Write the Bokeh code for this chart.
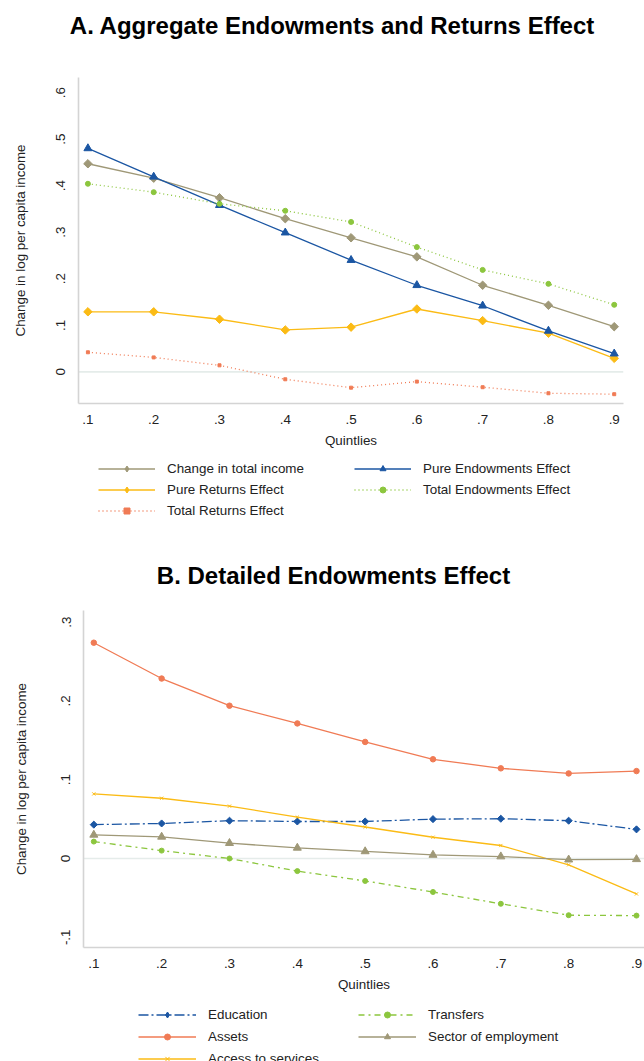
import math

from bokeh.plotting import figure
from bokeh.models import FixedTicker, Span, Legend, LegendItem, Range1d
from bokeh.core.properties import value
from bokeh.embed import file_html
from bokeh.resources import INLINE

# ---------------- data ----------------
quintiles = [0.1, 0.2, 0.3, 0.4, 0.5, 0.6, 0.7, 0.8, 0.9]
x_tick_labels = [".1", ".2", ".3", ".4", ".5", ".6", ".7", ".8", ".9"]

# Panel A: aggregate decomposition
total_income = [0.447, 0.416, 0.374, 0.329, 0.288, 0.247, 0.186, 0.143, 0.097]
pure_endowments = [0.480, 0.419, 0.358, 0.299, 0.240, 0.186, 0.142, 0.088, 0.039]
pure_returns = [0.129, 0.129, 0.113, 0.090, 0.096, 0.135, 0.110, 0.083, 0.029]
total_endowments = [0.404, 0.386, 0.361, 0.346, 0.322, 0.268, 0.219, 0.189, 0.144]
total_returns = [0.042, 0.031, 0.014, -0.016, -0.034, -0.021, -0.033, -0.046, -0.048]
a_y_ticks = [0, 0.1, 0.2, 0.3, 0.4, 0.5, 0.6]
a_y_labels = ["0", ".1", ".2", ".3", ".4", ".5", ".6"]

# Panel B: detailed endowments effect
education = [0.043, 0.0445, 0.048, 0.047, 0.047, 0.050, 0.0505, 0.048, 0.037]
assets = [0.274, 0.2285, 0.194, 0.1715, 0.148, 0.126, 0.1145, 0.108, 0.111]
access_services = [0.082, 0.0765, 0.0665, 0.0525, 0.040, 0.027, 0.0165, -0.008, -0.045]
transfers = [0.0215, 0.010, 0.000, -0.016, -0.0285, -0.0425, -0.0575, -0.072, -0.0725]
sector_employment = [0.030, 0.0275, 0.0195, 0.0135, 0.009, 0.0045, 0.0025, -0.0015, -0.001]
b_y_ticks = [-0.1, 0, 0.1, 0.2, 0.3]
b_y_labels = ["-.1", "0", ".1", ".2", ".3"]

# ---------------- style ----------------
FONT = "Liberation Sans"
TAN = "#9f9877"
BLUE = "#1b56a3"
GOLD = "#fbbb15"
GREEN = "#8cc63e"
CORAL = "#f07b55"
AXIS_GREY = "#d4d4d4"
ZERO_LINE = "#e5ecea"
TEXT = "#222222"
PAGE_W = 644

# (label, values, colour, marker, marker size, dash)
series_a = [
    ("Change in total income", total_income, TAN, "diamond", 6, "solid"),
    ("Pure Returns Effect", pure_returns, GOLD, "diamond", 6, "solid"),
    ("Total Returns Effect", total_returns, CORAL, "square", 3, "1 3"),
    ("Pure Endowments Effect", pure_endowments, BLUE, "triangle", 8, "solid"),
    ("Total Endowments Effect", total_endowments, GREEN, "circle", 5, "1 3"),
]
series_b = [
    ("Education", education, BLUE, "diamond", 5, "10 3 2 3"),
    ("Assets", assets, CORAL, "circle", 5.5, "solid"),
    ("Access to services", access_services, GOLD, "x", 4.5, "solid"),
    ("Transfers", transfers, GREEN, "circle", 5, "6 4 2 4"),
    ("Sector of employment", sector_employment, TAN, "triangle", 8, "solid"),
]


def blank_figure(height):
    p = figure(frame_width=PAGE_W, frame_height=height, min_border=0,
               x_range=Range1d(0, PAGE_W), y_range=Range1d(0, height),
               x_axis_location=None, y_axis_location=None,
               output_backend="svg", toolbar_location=None,
               background_fill_color="white", border_fill_color="white")
    p.outline_line_color = None
    p.grid.visible = False
    return p


def header(title, center_x, center_from_top, height):
    p = blank_figure(height)
    p.text(x=[center_x], y=[height - center_from_top], text=[title],
           text_font=value(FONT), text_font_size="24px",
           text_font_style="bold", text_color="#000000",
           text_align="center", text_baseline="middle")
    return p


def draw(p, x, y, color, marker, size, dash, visible=True):
    ln = p.line(x, y, line_color=color, line_width=1.3, line_dash=dash,
                visible=visible)
    if marker == "diamond" and visible:
        # Stata-style diamond: a square turned by 45 degrees
        sc = p.scatter(x, y, marker="square", angle=math.pi / 4, size=size,
                       fill_color=color, line_color=color)
    else:
        sc = p.scatter(x, y, marker=marker, size=size,
                       fill_color=color, line_color=color, visible=visible)
    return [ln, sc]


def panel(specs, frame_w, frame_h, left, right, xr, yr, yticks, ylabels,
          ylabel_standoff):
    p = figure(frame_width=frame_w, frame_height=frame_h,
               min_border_left=left, min_border_top=0,
               min_border_right=right, min_border_bottom=52,
               x_range=Range1d(*xr), y_range=Range1d(*yr),
               output_backend="svg", toolbar_location=None,
               background_fill_color="white", border_fill_color="white")
    p.outline_line_color = None
    p.xgrid.visible = False
    p.ygrid.visible = False

    for ax in (p.xaxis[0], p.yaxis[0]):
        ax.axis_line_color = AXIS_GREY
        ax.axis_line_width = 1.6
        ax.major_tick_line_color = None
        ax.minor_tick_line_color = None
        ax.major_tick_out = 0
        ax.major_tick_in = 0
        ax.major_label_text_font = FONT
        ax.major_label_text_font_size = "13.4px"
        ax.major_label_text_color = TEXT
        ax.axis_label_text_font = FONT
        ax.axis_label_text_font_size = "13.4px"
        ax.axis_label_text_font_style = "normal"
        ax.axis_label_text_color = TEXT

    p.xaxis.ticker = FixedTicker(ticks=quintiles)
    p.xaxis.major_label_overrides = dict(zip(quintiles, x_tick_labels))
    p.xaxis.axis_label = "Quintlies"
    p.xaxis.major_label_standoff = 11
    p.xaxis.axis_label_standoff = 6

    p.yaxis.ticker = FixedTicker(ticks=yticks)
    p.yaxis.major_label_overrides = dict(zip(yticks, ylabels))
    p.yaxis.major_label_orientation = "vertical"
    p.yaxis.axis_label = "Change in log per capita income"
    p.yaxis.major_label_standoff = 13
    p.yaxis.axis_label_standoff = ylabel_standoff

    p.add_layout(Span(location=0, dimension="width", line_color=ZERO_LINE,
                      line_width=1.6, level="underlay"))

    for _, vals, color, marker, size, dash in specs:
        draw(p, quintiles, vals, color, marker, size, dash)
    return p


def legend_strip(specs, height, loc, glyph_w, label_w, spacing):
    # hidden copies of each series supply the legend swatches
    p = blank_figure(height)
    items = []
    for label, vals, color, marker, size, dash in specs:
        rs = draw(p, quintiles, vals, color, marker, size, dash, visible=False)
        items.append(LegendItem(label=label, renderers=rs))
    lg = Legend(items=items, location=loc, orientation="vertical", ncols=2,
                glyph_width=glyph_w, glyph_height=15, label_height=20,
                label_width=label_w, label_standoff=12, spacing=spacing,
                padding=0, margin=0, border_line_color=None,
                background_fill_alpha=0, label_text_font=FONT,
                label_text_font_size="13.4px", label_text_color=TEXT,
                inactive_fill_alpha=0)
    p.add_layout(lg)
    return p


head_a = header("A. Aggregate Endowments and Returns Effect", 332, 25, 77)
plot_a = panel(series_a, 545, 326, 78, 21, (0.0857, 0.9141), (-0.068, 0.6323),
               a_y_ticks, a_y_labels, 26)
legend_a = legend_strip(series_a, 80, (98, 15), 57, 186, 1)

head_b = header("B. Detailed Endowments Effect", 333, 40, 75)
plot_b = panel(series_b, 561, 337, 83, 0, (0.0848, 0.9118), (-0.113, 0.3149),
               b_y_ticks, b_y_labels, 30)
legend_b = legend_strip(series_b, 76, (138, 7), 58, 148, 2)

open("out.html", "w").write(file_html(
    [head_a, plot_a, legend_a, head_b, plot_b, legend_b], INLINE))
